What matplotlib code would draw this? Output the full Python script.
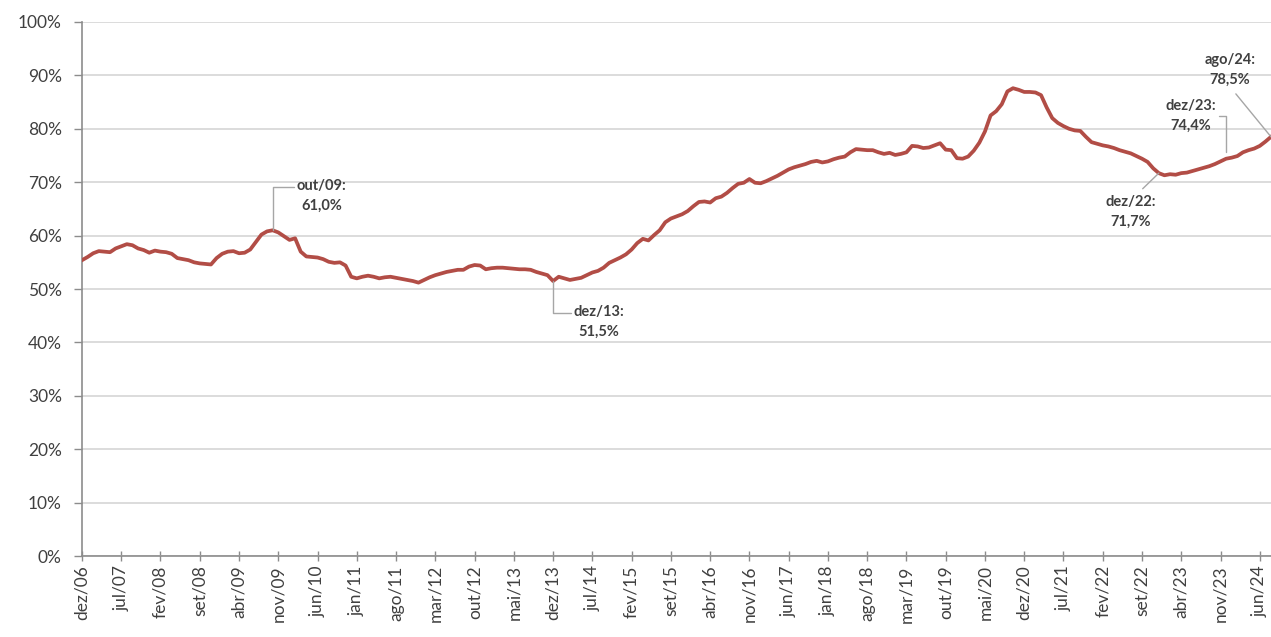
import numpy as np
import matplotlib.pyplot as plt
from matplotlib.ticker import FixedLocator, FuncFormatter

# serie mensal (% ), de dez/06 ate ago/24
valores = [
    55.4,
    56.0, 56.7, 57.1, 57.0, 56.9, 57.6, 58.0, 58.4, 58.2, 57.6, 57.3, 56.8,  # 2007
    57.2, 57.0, 56.9, 56.6, 55.8, 55.6, 55.4, 55.0, 54.8, 54.7, 54.6, 55.8,  # 2008
    56.6, 57.0, 57.1, 56.7, 56.8, 57.4, 58.8, 60.2, 60.8, 61.0, 60.6, 59.9,  # 2009
    59.2, 59.5, 57.0, 56.1, 56.0, 55.9, 55.6, 55.1, 54.9, 55.0, 54.4, 52.3,  # 2010
    52.0, 52.3, 52.5, 52.3, 52.0, 52.2, 52.3, 52.1, 51.9, 51.7, 51.5, 51.2,  # 2011
    51.7, 52.2, 52.6, 52.9, 53.2, 53.4, 53.6, 53.6, 54.2, 54.5, 54.4, 53.7,  # 2012
    53.9, 54.0, 54.0, 53.9, 53.8, 53.7, 53.7, 53.6, 53.2, 52.9, 52.6, 51.5,  # 2013
    52.3, 52.0, 51.7, 51.9, 52.1, 52.6, 53.1, 53.4, 54.0, 54.9, 55.4, 55.9,  # 2014
    56.5, 57.4, 58.6, 59.4, 59.1, 60.1, 61.0, 62.5, 63.2, 63.6, 64.0, 64.6,  # 2015
    65.5, 66.3, 66.4, 66.2, 67.0, 67.3, 68.0, 68.9, 69.7, 69.9, 70.6, 69.9,  # 2016
    69.8, 70.2, 70.7, 71.2, 71.8, 72.4, 72.8, 73.1, 73.4, 73.8, 74.0, 73.7,  # 2017
    73.9, 74.3, 74.6, 74.8, 75.6, 76.2, 76.1, 76.0, 76.0, 75.6, 75.3, 75.5,  # 2018
    75.1, 75.3, 75.6, 76.8, 76.7, 76.4, 76.5, 76.9, 77.3, 76.1, 76.0, 74.5,  # 2019
    74.4, 74.8, 75.9, 77.4, 79.5, 82.5, 83.3, 84.6, 87.0, 87.6, 87.3, 86.9,  # 2020
    86.9, 86.8, 86.3, 84.0, 82.0, 81.1, 80.5, 80.0, 79.7, 79.6, 78.5, 77.5,  # 2021
    77.2, 76.9, 76.7, 76.4, 76.0, 75.7, 75.4, 74.9, 74.4, 73.8, 72.6, 71.7,  # 2022
    71.3, 71.5, 71.4, 71.7, 71.8, 72.1, 72.4, 72.7, 73.0, 73.4, 73.9, 74.4,  # 2023
    74.6, 74.9, 75.6, 76.0, 76.3, 76.8, 77.6, 78.5,                          # 2024
]

rotulos_x = [
    "dez/06", "jul/07", "fev/08", "set/08", "abr/09", "nov/09", "jun/10", "jan/11",
    "ago/11", "mar/12", "out/12", "mai/13", "dez/13", "jul/14", "fev/15", "set/15",
    "abr/16", "nov/16", "jun/17", "jan/18", "ago/18", "mar/19", "out/19", "mai/20",
    "dez/20", "jul/21", "fev/22", "set/22", "abr/23", "nov/23", "jun/24",
]
passo = 7

# pontos destacados: (rotulo, indice do mes)
destaques = [("out/09", 34), ("dez/13", 84), ("dez/22", 192), ("dez/23", 204), ("ago/24", 212)]

plt.rcParams["font.family"] = ["Lato", "DejaVu Sans"]
cinza_txt = "#404040"

fig = plt.figure(figsize=(12.71, 6.37), dpi=100)
ax = fig.add_axes([0.0645, 0.127, 0.9355, 0.8385])

x = np.arange(len(valores))
ax.plot(x, valores, color="#B24D46", lw=2.7, solid_joinstyle="round", zorder=3)

ax.set_xlim(0, len(valores) - 1)
ax.set_ylim(0, 100)
ax.yaxis.set_major_locator(FixedLocator(range(0, 101, 10)))
ax.yaxis.set_major_formatter(FuncFormatter(lambda v, p: f"{v:.0f}%"))
ax.set_xticks(range(0, passo * len(rotulos_x), passo))
ax.set_xticklabels(rotulos_x, rotation=90)

ax.grid(axis="y", color="#D9D9D9", lw=1.3)
ax.set_axisbelow(True)
for lado in ("top", "right"):
    ax.spines[lado].set_visible(False)
for lado in ("left", "bottom"):
    ax.spines[lado].set_color("#8C8C8C")
    ax.spines[lado].set_linewidth(1.2)
ax.tick_params(axis="x", direction="inout", length=7, width=1, color="#8C8C8C",
               labelsize=12.5, labelcolor=cinza_txt, pad=3)
ax.tick_params(axis="y", direction="out", length=6, width=1, color="#8C8C8C",
               labelsize=12.5, labelcolor=cinza_txt, pad=8.5)

def fmt(v):
    return f"{v:.1f}".replace(".", ",") + "%"

# posicao do texto e estilo do fio de cada destaque
posicoes = {
    "out/09": ((42.7, 67.4), dict(connectionstyle="angle,angleA=0,angleB=90", relpos=(0.0, 0.78))),
    "dez/13": ((92.2, 43.8), dict(connectionstyle="angle,angleA=0,angleB=90", relpos=(0.0, 0.78))),
    "dez/22": ((187.0, 64.4), dict(connectionstyle="arc3", relpos=(0.6, 1.0), shrinkA=4)),
    "dez/23": ((197.7, 82.4), dict(connectionstyle="angle,angleA=0,angleB=90", relpos=(1.0, 0.5), shrinkB=5)),
    "ago/24": ((204.7, 91.0), dict(connectionstyle="arc3", relpos=(0.5, 0.0), shrinkA=4)),
}

for rotulo, i in destaques:
    (tx, ty), estilo = posicoes[rotulo]
    seta = dict(arrowstyle="-", color="#A6A6A6", lw=1.0, shrinkA=0, shrinkB=0)
    seta.update(estilo)
    ax.annotate(f"{rotulo}:\n{fmt(valores[i])}", xy=(i, valores[i]), xytext=(tx, ty),
                ha="center", va="center", fontsize=10.5, fontweight="bold",
                color=cinza_txt, linespacing=1.5, arrowprops=seta,
                annotation_clip=False, zorder=4)

fig.savefig("out.png", dpi=100, facecolor="white")
